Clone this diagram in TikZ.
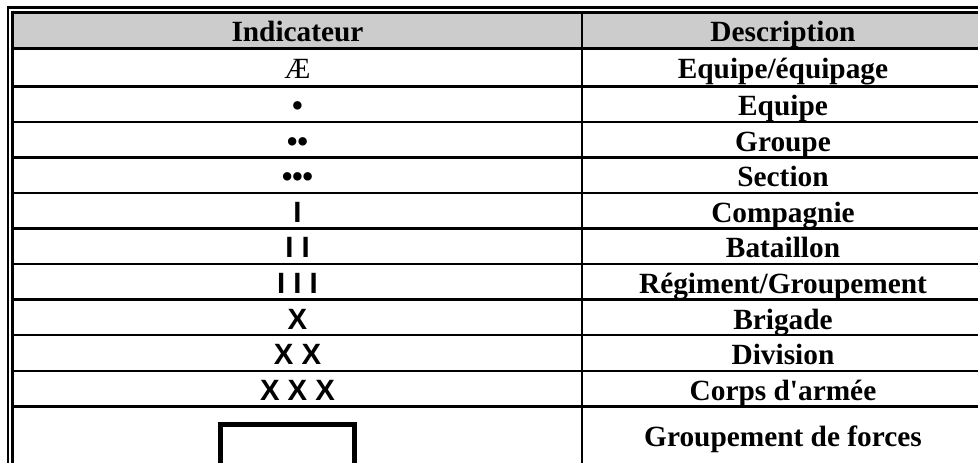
\documentclass[tikz,border=0pt]{standalone}
\usepackage{fontspec}
\newfontfamily\cellserif{Liberation Serif}
\newfontfamily\signfont{Liberation Sans}
\usepackage{tikz}
\usepackage{xcolor}
\usetikzlibrary{positioning}

\newcommand{\cellfont}{\cellserif\fontsize{22}{25}\selectfont}

\tikzstyle{indcell} = [rectangle, minimum width=426.75pt, minimum height=26.67pt, inner sep=0pt, outer sep=0pt, text height=19.5pt, text depth=2pt, text centered, font=\cellfont]
\tikzstyle{desccell} = [indcell, minimum width=301.5pt, font=\cellfont\bfseries]
\tikzstyle{headcell} = [fill=black!20, minimum height=27pt, font=\cellfont\bfseries]
\tikzstyle{sign} = [font=\cellfont\signfont\bfseries]
\tikzstyle{rule} = [line width=1.9pt]
\tikzstyle{border} = [line width=1.9pt, double, double distance=1.5pt]
\tikzstyle{forcebox} = [rectangle, draw=black, line width=3.4pt, minimum width=100.5pt, minimum height=60pt, inner sep=0pt, outer sep=0pt]

\begin{document}
\begin{tikzpicture}[x=0.75pt, y=-0.75pt]
\useasboundingbox (0,0) rectangle (978,463);
\clip (0,0) rectangle (978,463);

% Header
\node (head-ind) [indcell, headcell] at (297.5,30.3) {Indicateur};
\node (head-desc) [desccell, headcell, right=0pt of head-ind] {Description};

% Rows
\node (ae-ind) [indcell, minimum height=28.5pt, below=0pt of head-ind] {Æ};
\node (ae-desc) [desccell, minimum height=28.5pt, right=0pt of ae-ind] {Equipe/équipage};

\node (equipe-ind) [indcell, sign, below=0pt of ae-ind] {•};
\node (equipe-desc) [desccell, right=0pt of equipe-ind] {Equipe};

\node (groupe-ind) [indcell, sign, below=0pt of equipe-ind] {••};
\node (groupe-desc) [desccell, right=0pt of groupe-ind] {Groupe};

\node (section-ind) [indcell, sign, below=0pt of groupe-ind] {•••};
\node (section-desc) [desccell, right=0pt of section-ind] {Section};

\node (cie-ind) [indcell, sign, below=0pt of section-ind] {I};
\node (cie-desc) [desccell, right=0pt of cie-ind] {Compagnie};

\node (bat-ind) [indcell, sign, below=0pt of cie-ind] {I I};
\node (bat-desc) [desccell, right=0pt of bat-ind] {Bataillon};

\node (rgt-ind) [indcell, sign, below=0pt of bat-ind] {I I I};
\node (rgt-desc) [desccell, right=0pt of rgt-ind] {Régiment/Groupement};

\node (bde-ind) [indcell, sign, below=0pt of rgt-ind] {X};
\node (bde-desc) [desccell, right=0pt of bde-ind] {Brigade};

\node (div-ind) [indcell, sign, below=0pt of bde-ind] {X X};
\node (div-desc) [desccell, right=0pt of div-ind] {Division};

\node (corps-ind) [indcell, sign, below=0pt of div-ind] {X X X};
\node (corps-desc) [desccell, right=0pt of corps-ind] {Corps d'armée};

% Last row
\node (force-box) [forcebox, below=13.5pt of corps-ind, xshift=-7.5pt] {};
\node (force-desc) [desccell, below=0pt of corps-desc, yshift=-8pt] {Groupement de forces};

% Rules
\coordinate (sep-end) at (0,520);
\draw [rule] (head-ind.south west) -- (head-desc.south east);
\draw [rule] (ae-ind.south west) -- (ae-desc.south east);
\draw [rule] (equipe-ind.south west) -- (equipe-desc.south east);
\draw [rule] (groupe-ind.south west) -- (groupe-desc.south east);
\draw [rule] (section-ind.south west) -- (section-desc.south east);
\draw [rule] (cie-ind.south west) -- (cie-desc.south east);
\draw [rule] (bat-ind.south west) -- (bat-desc.south east);
\draw [rule] (rgt-ind.south west) -- (rgt-desc.south east);
\draw [rule] (bde-ind.south west) -- (bde-desc.south east);
\draw [rule] (div-ind.south west) -- (div-desc.south east);
\draw [rule] (corps-ind.south west) -- (corps-desc.south east);
\draw [rule] (head-ind.north east) -- (head-ind.north east |- sep-end);

% Frame
\coordinate [above left=1.7pt and 1.9pt of head-ind.north west] (frame-nw);
\coordinate [above right=1.7pt and 1.9pt of head-desc.north east] (frame-ne);
\draw [border] (frame-nw |- sep-end) -- (frame-nw) -- (frame-ne) -- (frame-ne |- sep-end);

\end{tikzpicture}
\end{document}
